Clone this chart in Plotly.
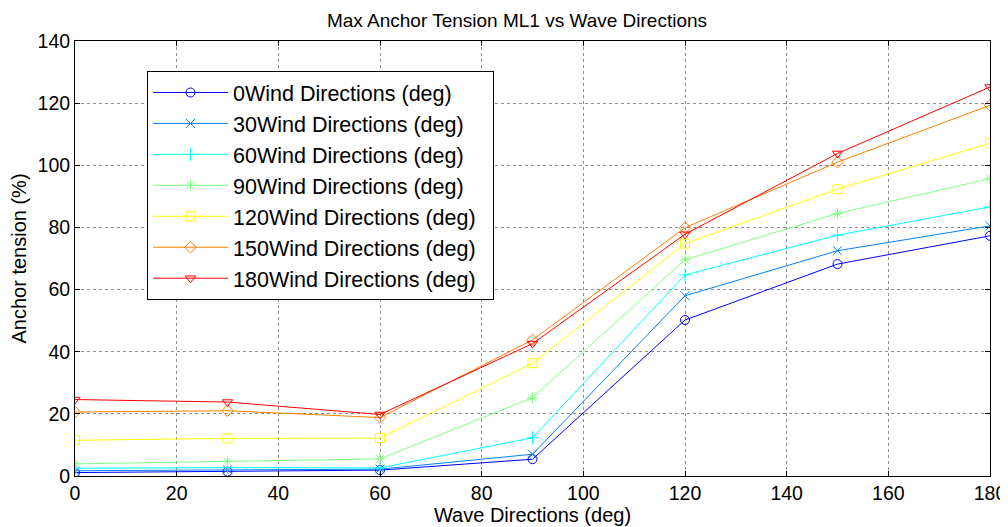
import plotly.graph_objects as go

wave_dirs = [0, 30, 60, 90, 120, 150, 180]
wind_dirs = [0, 30, 60, 90, 120, 150, 180]
tension_0 = [1.1, 1.4, 1.9, 5.4, 50.2, 68.2, 77.3]
tension_30 = [1.7, 2.0, 2.2, 7.0, 58.0, 72.5, 80.5]
tension_60 = [2.5, 2.7, 2.6, 12.3, 64.7, 77.5, 86.6]
tension_90 = [3.9, 4.8, 5.5, 25.2, 69.6, 84.5, 95.7]
tension_120 = [11.5, 12.1, 12.2, 36.3, 74.8, 92.3, 107.1]
tension_150 = [20.6, 21.0, 18.8, 43.8, 79.9, 101.0, 119.3]
tension_180 = [24.6, 23.8, 19.8, 42.6, 77.8, 103.8, 125.2]
series = [tension_0, tension_30, tension_60, tension_90, tension_120, tension_150, tension_180]

colors = ["#0000ff", "#0080ff", "#00ffff", "#80ff80", "#ffff00", "#ff8000", "#ff0000"]
symbols = ["circle-open", "x-thin-open", "cross-thin-open", "asterisk-open",
           "square-open", "diamond-open", "triangle-down-open"]

FONT = "Liberation Sans, Arial"

fig = go.Figure()
for wd, ys, c, s in zip(wind_dirs, series, colors, symbols):
    fig.add_trace(go.Scatter(
        x=wave_dirs, y=ys, mode="lines+markers",
        name=f"{wd}Wind Directions (deg)\u00a0\u00a0",
        line=dict(color=c, width=1),
        marker=dict(symbol=s, size=9, color=c, line=dict(color=c, width=1)),
    ))

axis_common = dict(
    showline=True, linecolor="black", linewidth=1, mirror="ticks",
    ticks="inside", ticklen=5, tickcolor="black", automargin=False,
    showgrid=True, gridcolor="#8c8c8c", griddash="dot", gridwidth=1,
    zeroline=False, tickfont=dict(family=FONT, size=19.5, color="black"),
)

fig.update_layout(
    width=1000, height=519,
    paper_bgcolor="white", plot_bgcolor="white",
    margin=dict(l=67, r=18, t=33, b=51),
    title=dict(text="Max Anchor Tension ML1 vs Wave Directions", x=0.509, xanchor="center",
               y=0.977, yanchor="middle",
               font=dict(family=FONT, size=19, color="black")),
    xaxis=dict(range=[0, 180], dtick=20,
               title=dict(text="Wave Directions (deg)", standoff=0,
                          font=dict(family=FONT, size=20, color="black")),
               **axis_common),
    yaxis=dict(range=[0, 140], dtick=20,
               title=dict(text="Anchor tension (%)", standoff=5,
                          font=dict(family=FONT, size=20, color="black")),
               **axis_common),
    legend=dict(x=0.0787, y=0.931, xanchor="left", yanchor="top",
                bgcolor="white", bordercolor="black", borderwidth=1,
                itemwidth=75, tracegroupgap=0,
                font=dict(family=FONT, size=21.5, color="black")),
)

fig.write_html("out.html")
